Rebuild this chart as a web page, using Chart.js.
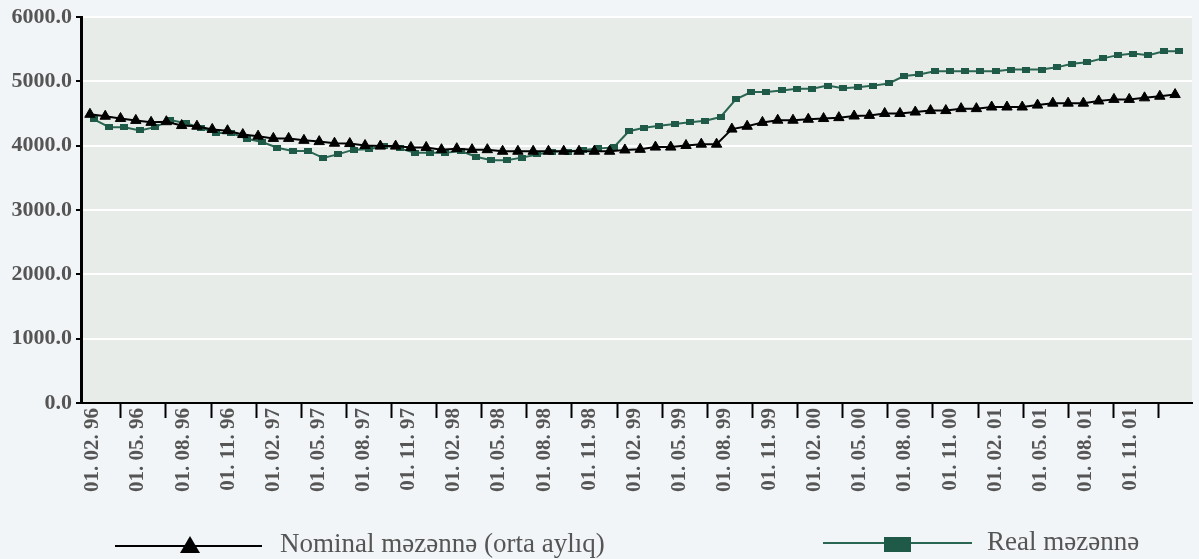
<!DOCTYPE html>
<html lang="az">
<head>
<meta charset="UTF-8">
<title>Nominal və real məzənnə</title>
<script src="https://cdn.jsdelivr.net/npm/chart.js"></script>
<style>
  body { margin: 0; background: #f2f5f7; }
  .wrap { position: relative; width: 1199px; height: 559px; }
  .leg { position: absolute; font-family: "Liberation Serif", "Times New Roman", serif; font-size: 27px; line-height: 27px; color: #555; white-space: nowrap; }
  .ln { position: absolute; height: 2px; }
  .tri { position: absolute; width: 0; height: 0; border-left: 10px solid transparent; border-right: 10px solid transparent; border-bottom: 17px solid #000; }
  .sq { position: absolute; width: 27px; height: 15px; background: #1e5a47; }
</style>
</head>
<body>
<div class="wrap">
  <canvas id="grafico" width="1199" height="559"></canvas>

  <!-- legenda -->
  <div class="ln" style="left:115px; top:545px; width:147px; background:#000;"></div>
  <div class="tri" style="left:180px; top:536px;"></div>
  <div class="leg" style="left:280px; top:530px;">Nominal məzənnə (orta aylıq)</div>

  <div class="ln" style="left:823px; top:542px; width:149px; background:#2a6652;"></div>
  <div class="sq" style="left:884px; top:537px;"></div>
  <div class="leg" style="left:987px; top:528px;">Real məzənnə</div>
</div>

<script>
// aylıq məlumat, 01.02.96 - 01.01.02
const nominalRate = [
    4490, 4460, 4425, 4395, 4365, 4375, 4315, 4305, 4255, 4235, 4175, 4150,
    4115, 4115, 4085, 4065, 4040, 4035, 4005, 3995, 3995, 3975, 3975, 3940,
    3955, 3940, 3940, 3915, 3915, 3915, 3915, 3915, 3915, 3915, 3915, 3935,
    3945, 3980, 3980, 4005, 4025, 4025, 4260, 4304, 4364, 4398, 4398, 4413,
    4424, 4438, 4463, 4473, 4503, 4503, 4525, 4548, 4548, 4578, 4578, 4603,
    4603, 4603, 4633, 4663, 4663, 4663, 4697, 4722, 4722, 4746, 4771, 4797
];

const realRate = [
    4410, 4290, 4290, 4240, 4290, 4400, 4350, 4280, 4200, 4200, 4110, 4060,
    3970, 3920, 3920, 3810, 3870, 3940, 3945, 4000, 3960, 3890, 3890, 3890,
    3920, 3830, 3776, 3776, 3816, 3866, 3910, 3910, 3935, 3960, 3975, 4226,
    4282, 4310, 4339, 4366, 4390, 4448, 4724, 4836, 4836, 4861, 4886, 4886,
    4936, 4896, 4910, 4936, 4970, 5085, 5110, 5160, 5160, 5160, 5160, 5160,
    5185, 5185, 5185, 5220, 5275, 5300, 5360, 5410, 5435, 5410, 5470, 5470
];

const tickLabels = [
    '01. 02. 96', '01. 05. 96', '01. 08. 96', '01. 11. 96',
    '01. 02. 97', '01. 05. 97', '01. 08. 97', '01. 11. 97',
    '01. 02. 98', '01. 05. 98', '01. 08. 98', '01. 11. 98',
    '01. 02. 99', '01. 05. 99', '01. 08. 99', '01. 11. 99',
    '01. 02. 00', '01. 05. 00', '01. 08. 00', '01. 11. 00',
    '01. 02. 01', '01. 05. 01', '01. 08. 01', '01. 11. 01'
];

// x oxu ay indeksi ilə
const X_MIN = -0.586;
const X_MAX = 72.107;
const REAL_SHIFT = 0.26;   // real seriya bir az sağa sürüşüb
const TICK_STEP = 2.952;

// etiket və xətt (tick) mövqeləri növbə ilə
const axisTicks = [];
tickLabels.forEach((t, j) => {
    axisTicks.push({ value: 0.195 + TICK_STEP * j });
    axisTicks.push({ value: 2.02 + TICK_STEP * j });
});

// kvadrat marker
const sqMarker = document.createElement('canvas');
sqMarker.width = 8;
sqMarker.height = 6;
const sqCtx = sqMarker.getContext('2d');
sqCtx.fillStyle = '#1e5a47';
sqCtx.fillRect(0, 0, 8, 6);

const plotBg = {
    id: 'plotBg',
    beforeDraw(chart) {
        const a = chart.chartArea;
        const c = chart.ctx;
        c.save();
        c.fillStyle = '#e8ece9';
        c.fillRect(a.left, a.top, a.right - a.left, a.bottom - a.top);
        c.restore();
    }
};

const fontB = (size) => ({ family: "'Liberation Serif', 'Times New Roman', serif", size: size, weight: 'bold' });

new Chart(document.getElementById('grafico'), {
    type: 'line',
    data: {
        datasets: [
            {
                label: 'Nominal məzənnə (orta aylıq)',
                data: nominalRate.map((v, i) => ({ x: i, y: v })),
                xAxisID: 'x',
                borderColor: '#000',
                borderWidth: 2,
                pointStyle: 'triangle',
                pointRadius: 6,
                pointBackgroundColor: '#000',
                pointBorderColor: '#000',
                pointBorderWidth: 1
            },
            {
                label: 'Real məzənnə',
                data: realRate.map((v, i) => ({ x: i, y: v })),
                xAxisID: 'x2',
                borderColor: '#2a6652',
                borderWidth: 2,
                pointStyle: sqMarker,
                pointRadius: 5
            }
        ]
    },
    options: {
        responsive: false,
        animation: false,
        devicePixelRatio: 1,
        layout: { padding: { top: 15, right: 2, left: 0, bottom: 0 } },
        plugins: { legend: { display: false }, tooltip: { enabled: false } },
        scales: {
            x: {
                type: 'linear',
                position: 'bottom',
                min: X_MIN,
                max: X_MAX,
                afterFit: (s) => { s.height = 156; },
                afterBuildTicks: (s) => { s.ticks = axisTicks.map(t => ({ value: t.value })); },
                grid: {
                    drawOnChartArea: false,
                    drawTicks: true,
                    tickLength: 15,
                    tickWidth: 2,
                    tickColor: (c) => (c.index % 2 ? '#000' : 'rgba(0,0,0,0)')
                },
                border: { display: true, color: '#000', width: 2 },
                ticks: {
                    autoSkip: false,
                    maxRotation: 90,
                    minRotation: 90,
                    padding: -10,
                    color: '#555',
                    font: fontB(21),
                    callback: (v, i) => (i % 2 ? '' : tickLabels[i / 2])
                }
            },
            x2: {
                type: 'linear',
                display: false,
                min: X_MIN - REAL_SHIFT,
                max: X_MAX - REAL_SHIFT
            },
            y: {
                min: 0,
                max: 6000,
                afterFit: (s) => { s.width = 81; },
                grid: {
                    color: (c) => (c.tick && c.tick.value === 0 ? 'rgba(0,0,0,0)' : '#ffffff'),
                    lineWidth: 2,
                    tickLength: 5,
                    tickWidth: 2,
                    tickColor: '#000'
                },
                border: { display: true, color: '#000', width: 3 },
                ticks: {
                    stepSize: 1000,
                    padding: 4,
                    color: '#555',
                    font: fontB(22),
                    callback: (v) => v.toFixed(1)
                }
            }
        }
    },
    plugins: [plotBg]
});
</script>
</body>
</html>
